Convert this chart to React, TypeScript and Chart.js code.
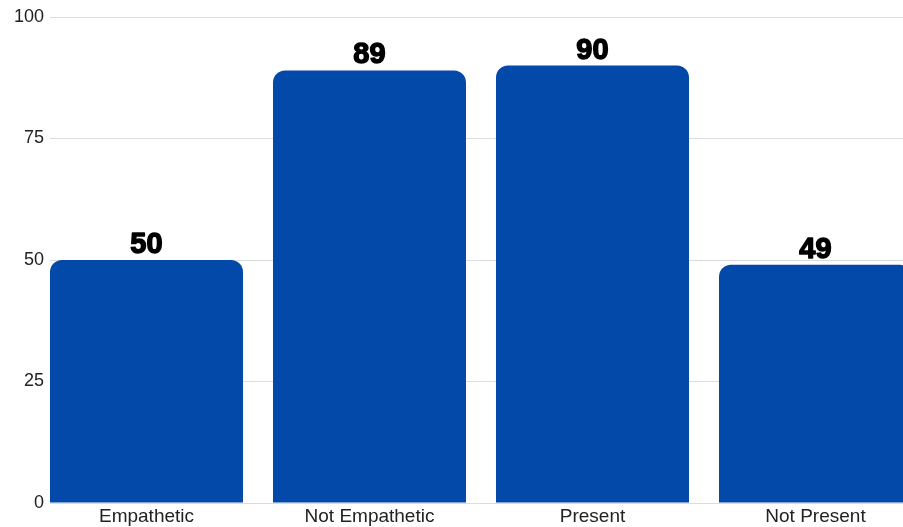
import React, { useEffect, useRef } from "react";
import { Chart, registerables } from "chart.js";

Chart.register(...registerables);

const categories = ["Empathetic", "Not Empathetic", "Present", "Not Present"];
const values = [50, 89, 90, 49];
const yTicks = [0, 25, 50, 75, 100];

const BAR_COLOR = "#0349A9";

const valueLabels = {
  id: "valueLabels",
  afterDatasetsDraw(chart: any) {
    const ctx = chart.ctx;
    const meta = chart.getDatasetMeta(0);
    ctx.save();
    ctx.font = "bold 29px 'Liberation Sans', Arial, sans-serif";
    ctx.fillStyle = "#000";
    ctx.strokeStyle = "#000";
    ctx.lineWidth = 1.4;
    ctx.lineJoin = "round";
    ctx.textAlign = "center";
    ctx.textBaseline = "alphabetic";
    meta.data.forEach((bar: any, i: number) => {
      const label = String(values[i]);
      ctx.strokeText(label, bar.x, bar.y - 7);
      ctx.fillText(label, bar.x, bar.y - 7);
    });
    ctx.restore();
  },
};

export default function App() {
  const ref = useRef<HTMLCanvasElement | null>(null);

  useEffect(() => {
    if (!ref.current) return;
    const chart = new Chart(ref.current, {
      type: "bar",
      data: {
        datasets: [
          {
            data: values.map((v, i) => ({ x: i, y: v })),
            backgroundColor: BAR_COLOR,
            borderRadius: { topLeft: 12, topRight: 12, bottomLeft: 0, bottomRight: 0 },
            borderSkipped: "bottom",
            categoryPercentage: 1,
            barPercentage: 193 / 223,
          },
        ],
      },
      options: {
        animation: false,
        responsive: false,
        maintainAspectRatio: false,
        layout: { padding: { top: 17, right: 0, left: 0, bottom: 0 } },
        plugins: {
          legend: { display: false },
          tooltip: { enabled: false },
        },
        scales: {
          x: {
            type: "linear",
            offset: false,
            min: -0.4327,
            max: 3.3924,
            grid: { display: false, drawTicks: false },
            border: { display: false },
            afterFit: (scale: any) => {
              scale.height = 24;
            },
            afterBuildTicks: (scale: any) => {
              scale.ticks = categories.map((_, i) => ({ value: i }));
            },
            ticks: {
              autoSkip: false,
              maxRotation: 0,
              padding: 2,
              color: "#222",
              font: { family: "'Liberation Sans', Arial, sans-serif", size: 19 },
              callback: (v: any) => categories[v as number] ?? "",
            },
          },
          y: {
            min: 0,
            max: 100,
            afterBuildTicks: (scale: any) => {
              scale.ticks = yTicks.map((v) => ({ value: v }));
            },
            afterFit: (scale: any) => {
              scale.width = 50;
            },
            grid: { color: "#dcdcdc", drawTicks: false, lineWidth: 1 },
            border: { display: false },
            ticks: {
              padding: 6,
              color: "#222",
              font: { family: "'Liberation Sans', Arial, sans-serif", size: 18 },
            },
          },
        },
      },
      plugins: [valueLabels],
    });
    return () => chart.destroy();
  }, []);

  return (
    <div style={{ position: "fixed", left: 0, top: 0, width: 903, height: 527, background: "#fff" }}>
      <canvas ref={ref} width={903} height={527} style={{ display: "block" }} />
    </div>
  );
}
